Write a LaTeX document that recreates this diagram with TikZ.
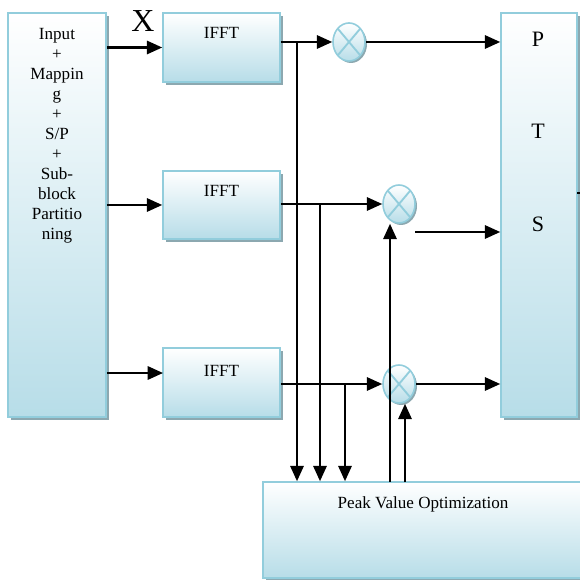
\documentclass[tikz,border=0pt]{standalone}
\usepackage{fontspec}
\setmainfont{Liberation Serif}
\usetikzlibrary{arrows.meta,shapes.geometric,shadows}
\definecolor{boxblue}{RGB}{183,221,232}
\definecolor{edgeblue}{RGB}{146,205,220}
\definecolor{shadegray}{RGB}{140,168,176}
\tikzset{
  blk/.style={draw=edgeblue, line width=1.2pt, top color=white, bottom color=boxblue, inner sep=0pt,
    drop shadow={shadow xshift=2.5pt, shadow yshift=-2.5pt, fill=shadegray, opacity=1}},
  mult/.style={ellipse, draw=edgeblue, line width=1.2pt, top color=white, bottom color=boxblue,
    minimum width=24pt, minimum height=28.5pt, inner sep=0pt,
    drop shadow={shadow xshift=1.5pt, shadow yshift=-1.5pt, fill=shadegray, opacity=1},
    path picture={\draw[edgeblue, line width=1.4pt]
      (path picture bounding box.north west) -- (path picture bounding box.south east)
      (path picture bounding box.north east) -- (path picture bounding box.south west);}},
  arr/.style={-{Triangle[length=11.5pt,width=10pt]}, line width=1.6pt},
  lbl/.style={font=\fontsize{12.8}{15}\selectfont, inner sep=0pt}
}
\begin{document}
\begin{tikzpicture}[x=0.75pt,y=-0.75pt]
\useasboundingbox (0,0) rectangle (579,580);
% blocks
\node[blk, minimum width=73.5pt, minimum height=303pt] (map) at (57,215) {};
\node[blk, minimum width=87.75pt, minimum height=51.75pt] (ifft1) at (221.5,47.5) {};
\node[blk, minimum width=87.75pt, minimum height=51pt] (ifft2) at (221.5,205) {};
\node[blk, minimum width=87.75pt, minimum height=51.75pt] (ifft3) at (221.5,382.5) {};
\node[blk, minimum width=57pt, minimum height=303pt] (pts) at (539,215) {};
\node[blk, minimum width=252.75pt, minimum height=72pt] (peak) at (431.5,530) {};

\node[mult] (m1) at (349,42) {};
\node[mult] (m2) at (399,204) {};
\node[mult] (m3) at (399,384) {};

% texts
\node[lbl, anchor=north, align=center] (maptxt) at (57,28)
  {Input\\+\\Mappin\\g\\+\\S/P\\+\\Sub-\\block\\Partitio\\ning};
\node[lbl, anchor=base] (t1) at (221.5,39) {IFFT};
\node[lbl, anchor=base] (t2) at (221.5,197) {IFFT};
\node[lbl, anchor=base] (t3) at (221.5,376) {IFFT};
\node[font=\fontsize{24}{24}\selectfont, inner sep=0pt, anchor=base] (xlab) at (143,32) {X};
\node[font=\fontsize{16.5}{16.5}\selectfont, inner sep=0pt, anchor=base] (tp) at (538,47) {P};
\node[font=\fontsize{16.5}{16.5}\selectfont, inner sep=0pt, anchor=base] (tt) at (538,139) {T};
\node[font=\fontsize{16.5}{16.5}\selectfont, inner sep=0pt, anchor=base] (ts) at (538,232) {S};
\node[lbl, anchor=base] (tpk) at (423,508) {Peak Value Optimization};

% inputs
\coordinate (in3) at (163,373);
\draw[arr] (map.east |- ifft1) -- (ifft1);
\draw[arr] (map.east |- ifft2) -- (ifft2);
\draw[arr] (map.east |- in3) -- (in3);

% first branch
\coordinate (j1) at (297,42);
\draw[arr] (ifft1.east |- m1) -- (m1);
\draw[arr] (j1) -- (j1 |- peak.north);
\draw[arr] (m1) -- (m1 -| pts.west);

% second branch
\coordinate (j2) at (320,205);
\coordinate (o2) at (415,232);
\coordinate (f2) at (390,482);
\draw[arr] (ifft2.east |- m2) -- (m2);
\draw[arr] (j2) -- (j2 |- peak.north);
\draw[arr] (o2) -- (o2 -| pts.west);
\draw[arr] (f2) -- (f2 |- m2.south);

% third branch
\coordinate (j3) at (345,384);
\coordinate (f3) at (405,482);
\draw[arr] (ifft3.east |- m3) -- (m3);
\draw[arr] (j3) -- (j3 |- peak.north);
\draw[arr] (m3) -- (m3 -| pts.west);
\draw[arr] (f3) -- (f3 |- m3.south);

% output stub
\coordinate (s1) at (577,193);
\draw[line width=1.5pt] (s1) -- +(4,0);
\end{tikzpicture}
\end{document}
